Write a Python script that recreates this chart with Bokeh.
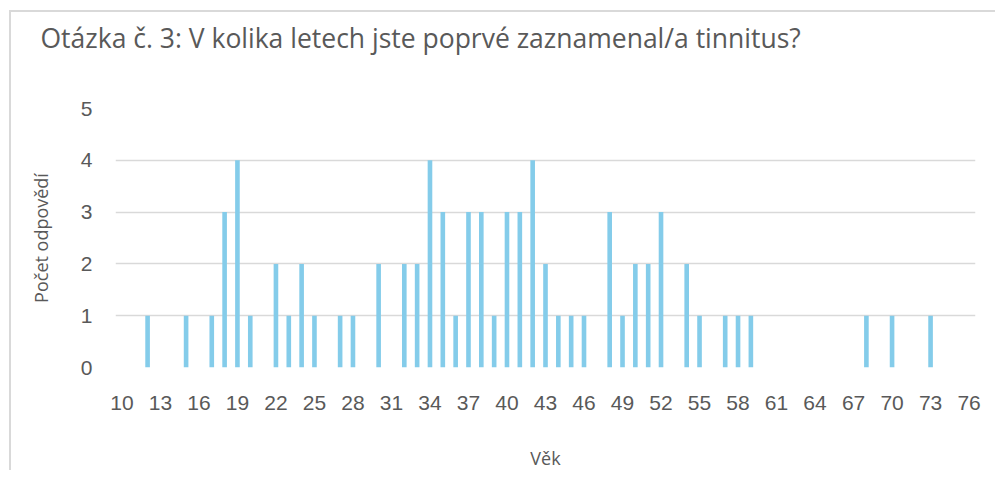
from bokeh.plotting import figure
from bokeh.models import Range1d, FixedTicker, Title
from bokeh.embed import file_html
from bokeh.resources import INLINE

# Data
ages = [12, 15, 17, 18, 19, 20, 22, 23, 24, 25, 27, 28, 30, 32, 33, 34, 35, 36,
        37, 38, 39, 40, 41, 42, 43, 44, 45, 46, 48, 49, 50, 51, 52, 54, 55, 57,
        58, 59, 68, 70, 73]
counts = [1, 1, 1, 3, 4, 1, 2, 1, 2, 1, 1, 1, 2, 2, 2, 4, 3, 1,
          3, 3, 1, 3, 3, 4, 2, 1, 1, 1, 3, 1, 2, 2, 3, 2, 1, 1,
          1, 1, 1, 1, 1]
x_ticks = list(range(10, 77, 3))
y_ticks = [0, 1, 2, 3, 4, 5]

title_text = "Otázka č. 3: V kolika letech jste poprvé zaznamenal/a tinnitus?"
x_label = "Věk"
y_label = "Počet odpovědí"

GREY = "#595959"
BAR = "#84CCEA"
GRID = "#d9d9d9"

p = figure(width=986, height=460, output_backend="svg", toolbar_location=None,
           x_range=Range1d(9.5, 76.5), y_range=Range1d(0, 5),
           min_border_left=104, min_border_right=22,
           min_border_top=96, min_border_bottom=96)
p.styles = {"border-left": "2px solid #d9d9d9", "border-top": "2px solid #d9d9d9",
            "margin-left": "9px", "margin-top": "10px"}

p.vbar(x=ages, top=counts, width=0.36, color=BAR, line_color=None)

# spacer between the title and the plot area
p.add_layout(Title(text=" ", text_font_size="10px", standoff=40), "above")

p.title.text = title_text
p.title.align = "left"
p.title.vertical_align = "bottom"
p.title.offset = -75
p.title.standoff = 0
p.title.text_font = "Open Sans"
p.title.text_font_size = "26.5px"
p.title.text_font_style = "normal"
p.title.text_color = GREY

p.outline_line_color = None
p.xgrid.visible = False
p.ygrid.grid_line_color = GRID
p.ygrid.grid_line_width = 1.5

p.xaxis.ticker = FixedTicker(ticks=x_ticks)
p.yaxis.ticker = FixedTicker(ticks=y_ticks)
for ax in (p.xaxis, p.yaxis):
    ax.axis_line_color = None
    ax.major_tick_line_color = None
    ax.minor_tick_line_color = None
    ax.major_label_text_font = "Liberation Sans"
    ax.major_label_text_font_size = "21px"
    ax.major_label_text_color = GREY
    ax.axis_label_text_font = "Open Sans"
    ax.axis_label_text_font_size = "18px"
    ax.axis_label_text_font_style = "normal"
    ax.axis_label_text_color = GREY

p.xaxis.axis_label = x_label
p.yaxis.axis_label = y_label
p.xaxis.major_label_standoff = 22
p.yaxis.major_label_standoff = 17
p.xaxis.axis_label_standoff = 33
p.yaxis.axis_label_standoff = 25

open("out.html", "w").write(file_html(p, INLINE))
